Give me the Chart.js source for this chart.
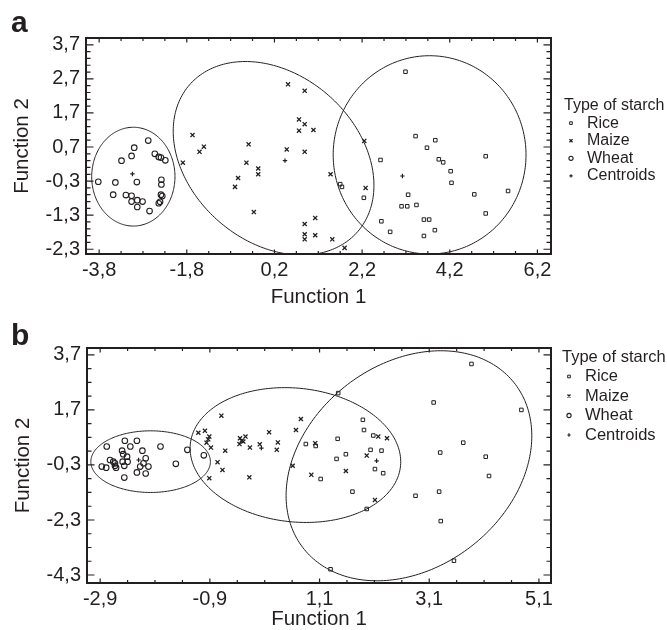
<!DOCTYPE html>
<html><head><meta charset="utf-8">
<script src="https://cdn.jsdelivr.net/npm/chart.js@4.4.1/dist/chart.umd.min.js"></script>
<style>
html,body{margin:0;padding:0;background:#fff;}
#wrap{position:relative;width:667px;height:630px;overflow:hidden;}
canvas{position:absolute;left:0;}
#ca{top:0;} #cb{top:310px;}
</style></head><body>
<div id="wrap"><canvas id="ca" width="667" height="310"></canvas><canvas id="cb" width="667" height="320"></canvas></div>
<script>
// ---------- Panel a data ----------
const riceA = [[3.19,2.91],[3.42,1.02],[3.87,0.90],[3.68,0.68],[2.62,0.32],[3.95,0.34],[4.05,0.25],[4.22,-0.01],[4.24,-0.35],[5.02,0.43],[3.25,-0.70],[3.10,-1.04],[3.23,-1.04],[3.44,-1.00],[4.76,-0.69],[5.53,-0.59],[5.02,-1.25],[2.64,-1.48],[3.61,-1.43],[3.73,-1.43],[2.84,-1.79],[3.86,-1.74],[3.61,-1.91],[2.24,-0.79],[1.70,-0.39],[1.74,-0.47]];
const maizeA = [[-1.67,1.05],[-1.51,0.56],[-1.41,0.71],[-1.89,0.24],[-0.39,0.78],[-0.44,0.24],[-0.63,-0.21],[-0.70,-0.47],[-0.17,0.07],[-0.17,-0.10],[-0.27,-1.21],[0.51,2.54],[0.89,2.35],[0.76,1.51],[0.89,1.37],[0.76,1.18],[1.09,1.20],[0.48,0.63],[0.89,0.56],[1.48,-0.10],[2.25,0.88],[2.28,-0.50],[0.89,-1.56],[1.13,-1.38],[0.89,-1.86],[1.13,-1.89],[0.89,-2.01],[1.52,-2.01],[1.80,-2.26]];
const wheatA = [[-3.82,-0.32],[-3.43,-0.34],[-3.48,-0.70],[-3.29,0.30],[-3.06,0.44],[-3.00,0.68],[-2.94,-0.33],[-2.68,0.89],[-2.53,0.50],[-2.44,0.41],[-2.39,0.39],[-2.29,0.31],[-2.38,-0.26],[-2.38,-0.40],[-3.19,-0.71],[-3.06,-0.73],[-3.06,-0.90],[-2.93,-0.86],[-2.93,-1.06],[-2.81,-0.90],[-2.65,-1.18],[-2.39,-0.70],[-2.36,-0.74],[-2.41,-0.91],[-2.44,-0.95]];
const centroidsA = [[-3.04,-0.09],[0.44,0.30],[3.12,-0.15]];
// ellipses: [centreX, centreY, halfWidthX, halfHeightY, correlation]
const ellipsesA = [[-3.02,-0.17,0.95,1.45,0],[0.18,0.37,2.29,2.84,-0.28],[3.74,0.47,2.20,2.91,0]];
const xTicksA = [-3.8,-1.8,0.2,2.2,4.2,6.2];
const yTicksA = [-2.3,-1.3,-0.3,0.7,1.7,2.7,3.7];

// ---------- Panel b data ----------
const riceB = [[1.44,2.31],[0.85,0.46],[1.03,0.39],[1.41,-0.08],[1.12,-0.81],[1.30,-4.09],[3.87,3.37],[3.18,1.97],[4.78,1.70],[1.89,1.34],[1.91,0.97],[1.43,0.65],[2.08,0.77],[2.03,0.25],[2.23,0.22],[1.58,0.09],[2.11,-0.45],[2.26,-0.60],[1.70,-1.27],[1.96,-1.90],[3.72,0.51],[3.30,0.15],[4.13,0.00],[4.19,-0.70],[2.85,-1.42],[3.28,-1.27],[3.31,-2.34],[3.55,-3.78]];
const maizeB = [[-0.69,1.49],[-1.11,0.87],[-0.99,0.94],[-0.91,0.73],[-0.93,0.63],[-0.96,0.51],[-0.88,0.33],[-0.62,0.22],[-0.76,-0.20],[-0.67,-0.48],[-0.91,-0.78],[-0.35,0.67],[-0.32,0.58],[-0.25,0.73],[-0.36,0.46],[-0.29,0.55],[-0.17,0.33],[0.01,0.45],[0.18,0.89],[0.34,0.52],[0.32,0.25],[-0.18,-0.75],[0.76,1.37],[0.67,0.97],[1.02,0.49],[0.61,-0.33],[0.95,-0.66],[2.17,0.73],[2.33,0.67],[1.96,0.04],[1.58,-0.52],[2.11,-1.57]];
const wheatB = [[-2.78,0.37],[-2.45,0.58],[-2.35,0.37],[-2.23,0.58],[-2.13,0.22],[-1.80,0.37],[-1.31,0.25],[-2.50,0.22],[-2.48,0.09],[-2.41,0.00],[-2.72,-0.12],[-2.66,-0.18],[-2.63,-0.24],[-2.63,-0.33],[-2.61,-0.40],[-2.49,-0.18],[-2.40,-0.18],[-2.46,-0.33],[-2.87,-0.36],[-2.79,-0.40],[-2.07,-0.06],[-2.11,-0.24],[-2.17,-0.36],[-2.02,-0.36],[-2.23,-0.57],[-2.07,-0.61],[-2.46,-0.76],[-1.52,-0.26],[-1.01,0.05]];
const centroidsB = [[-2.20,-0.12],[0.04,0.31],[2.14,-0.15]];
const ellipsesB = [[-1.98,-0.18,1.09,1.12,0],[0.66,0.06,1.92,2.45,-0.1],[2.73,-0.33,2.24,4.18,0.26]];
const xTicksB = [-2.9,-0.9,1.1,3.1,5.1];
const yTicksB = [-4.3,-2.3,-0.3,1.7,3.7];

const seriesNames = ['Rice','Maize','Wheat','Centroids'];
const legendTitle = 'Type of starch';

// ---------- rendering ----------
const FONT = '"Liberation Sans", Arial, Helvetica, sans-serif';
const INK = '#231f20';
const fmt = v => v.toFixed(1).replace('.', ',');
const toPts = a => a.map(p => ({x: p[0], y: p[1]}));

function drawSym(ctx, style, r, bw, x, y) {
  ctx.save();
  ctx.strokeStyle = INK; ctx.fillStyle = 'rgba(0,0,0,0)'; ctx.lineWidth = bw;
  Chart.helpers.drawPoint(ctx, {pointStyle: style, radius: r, rotation: 0, borderWidth: bw}, x, y);
  ctx.restore();
}

function makePanel(canvas, cfg) {
  const styles = [
    {pointStyle: 'rect', pointRadius: 2.5, borderWidth: 1},
    {pointStyle: 'crossRot', pointRadius: 2.9, borderWidth: 1.3},
    {pointStyle: 'circle', pointRadius: 2.8, borderWidth: 1.1},
    {pointStyle: 'cross', pointRadius: 2.2, borderWidth: 1.2}
  ];
  const datasets = [cfg.rice, cfg.maize, cfg.wheat, cfg.centroids].map((d, i) => ({
    label: seriesNames[i], data: toPts(d), showLine: false,
    pointStyle: styles[i].pointStyle, pointRadius: styles[i].pointRadius,
    borderWidth: styles[i].borderWidth, pointBorderWidth: styles[i].borderWidth,
    borderColor: INK, backgroundColor: 'rgba(0,0,0,0)', pointBackgroundColor: 'rgba(0,0,0,0)'
  }));

  const decor = {
    id: 'decor',
    afterDatasetsDraw(chart) {
      const {ctx, chartArea: ca, scales: {x: xs, y: ys}} = chart;
      // ellipses
      ctx.save();
      ctx.beginPath(); ctx.rect(ca.left, ca.top, ca.right - ca.left, ca.bottom - ca.top); ctx.clip();
      ctx.strokeStyle = INK; ctx.lineWidth = 1;
      cfg.ellipses.forEach(e => {
        const [cx, cy, rx, ry, rho] = e;
        const s = Math.sqrt(1 - rho * rho);
        ctx.beginPath();
        for (let k = 0; k <= 240; k++) {
          const t = k / 240 * Math.PI * 2;
          const px = xs.getPixelForValue(cx + rx * Math.cos(t));
          const py = ys.getPixelForValue(cy + ry * (rho * Math.cos(t) - s * Math.sin(t)));
          if (k === 0) ctx.moveTo(px, py); else ctx.lineTo(px, py);
        }
        ctx.closePath(); ctx.stroke();
      });
      ctx.restore();
      // frame
      ctx.save();
      ctx.strokeStyle = INK; ctx.lineWidth = 2;
      ctx.strokeRect(ca.left, ca.top, ca.right - ca.left, ca.bottom - ca.top);
      ctx.lineWidth = 1.2;
      const tick = (scale, step, base, majLen, minLen, horiz) => {
        const ticks = [];
        const n0 = Math.ceil((scale.min - base) / step - 1e-6), n1 = Math.floor((scale.max - base) / step + 1e-6);
        for (let n = n0; n <= n1; n++) {
          const v = base + n * step;
          const major = cfg[horiz ? 'xTicks' : 'yTicks'].some(t => Math.abs(t - v) < 1e-6);
          ticks.push([scale.getPixelForValue(v), major ? majLen : minLen]);
        }
        ctx.beginPath();
        ticks.forEach(([p, L]) => {
          if (horiz) {
            ctx.moveTo(p, ca.bottom); ctx.lineTo(p, ca.bottom - L);
            ctx.moveTo(p, ca.top); ctx.lineTo(p, ca.top + L);
          } else {
            ctx.moveTo(ca.left, p); ctx.lineTo(ca.left + L, p);
            ctx.moveTo(ca.right, p); ctx.lineTo(ca.right - L, p);
          }
        });
        ctx.stroke();
      };
      tick(xs, cfg.xMinor, cfg.xTicks[0], 4.5, 3, true);
      tick(ys, cfg.yMinor, cfg.yTicks[0], 7.5, 4.5, false);
      ctx.restore();
    },
    afterDraw(chart) {
      const ctx = chart.ctx;
      ctx.save();
      ctx.fillStyle = INK;
      // panel letter
      ctx.font = 'bold 30px ' + FONT;
      ctx.textBaseline = 'alphabetic'; ctx.textAlign = 'left';
      ctx.fillText(cfg.letter, cfg.letterPos[0], cfg.letterPos[1]);
      // legend
      const L = cfg.legend;
      ctx.font = L.size + 'px ' + FONT;
      ctx.textBaseline = 'middle';
      ctx.fillText(legendTitle, L.x, L.y);
      chart.data.datasets.forEach((ds, i) => {
        const yy = L.y + L.gap * (i + 1);
        drawSym(ctx, ds.pointStyle, ds.pointRadius * 0.75, ds.borderWidth, L.symX, yy);
        ctx.fillStyle = INK;
        ctx.fillText(ds.label, L.textX, yy);
      });
      ctx.restore();
    }
  };

  const H = canvas.height;
  return new Chart(canvas, {
    type: 'scatter',
    data: {datasets},
    options: {
      responsive: false, animation: false, events: [],
      layout: {padding: {left: 0, top: cfg.area.top, right: 667 - cfg.area.right, bottom: 0}},
      plugins: {legend: {display: false}, tooltip: {enabled: false}, title: {display: false}},
      scales: {
        x: {
          type: 'linear', position: 'bottom', min: cfg.xRange[0], max: cfg.xRange[1],
          grid: {display: false, drawTicks: false}, border: {display: false},
          afterBuildTicks: s => { s.ticks = cfg.xTicks.map(v => ({value: v})); },
          afterFit: s => { s.height = H - cfg.area.bottom; },
          ticks: {font: {size: 20, family: FONT}, color: INK, padding: 4, maxRotation: 0, autoSkip: false, callback: v => fmt(v)},
          title: {display: true, text: 'Function 1', color: INK, font: {size: 20.5, family: FONT, lineHeight: cfg.xTitleLH}, padding: {top: 0, bottom: cfg.xTitlePad}}
        },
        y: {
          type: 'linear', position: 'left', min: cfg.yRange[0], max: cfg.yRange[1],
          grid: {display: false, drawTicks: false}, border: {display: false},
          afterBuildTicks: s => { s.ticks = cfg.yTicks.map(v => ({value: v})); },
          afterFit: s => { s.width = cfg.area.left; },
          ticks: {font: {size: 20, family: FONT}, color: INK, padding: 6, autoSkip: false, callback: v => fmt(v)},
          title: {display: true, text: 'Function 2', color: INK, font: {size: 20.5, family: FONT}, padding: {top: cfg.yTitlePad, bottom: 0}}
        }
      }
    },
    plugins: [decor]
  });
}

makePanel(document.getElementById('ca'), {
  rice: riceA, maize: maizeA, wheat: wheatA, centroids: centroidsA, ellipses: ellipsesA,
  xTicks: xTicksA, yTicks: yTicksA, xRange: [-4.10, 6.51], yRange: [-2.44, 3.90],
  xMinor: 0.5, yMinor: 0.2,
  area: {left: 86, right: 551, top: 38, bottom: 254},
  xTitlePad: 0, xTitleLH: 1.2, yTitlePad: 9.7,
  letter: 'a', letterPos: [11, 32],
  legend: {x: 564, y: 105.5, gap: 17.6, symX: 571, textX: 587, size: 16}
});
makePanel(document.getElementById('cb'), {
  rice: riceB, maize: maizeB, wheat: wheatB, centroids: centroidsB, ellipses: ellipsesB,
  xTicks: xTicksB, yTicks: yTicksB, xRange: [-3.14, 5.32], yRange: [-4.59, 3.95],
  xMinor: 0.5, yMinor: 0.5,
  area: {left: 87, right: 551, top: 38, bottom: 273},
  xTitlePad: 0, xTitleLH: 1, yTitlePad: 11.2,
  letter: 'b', letterPos: [11, 35],
  legend: {x: 562, y: 47, gap: 19.5, symX: 569, textX: 585, size: 16.5}
});
</script>
</body></html>
